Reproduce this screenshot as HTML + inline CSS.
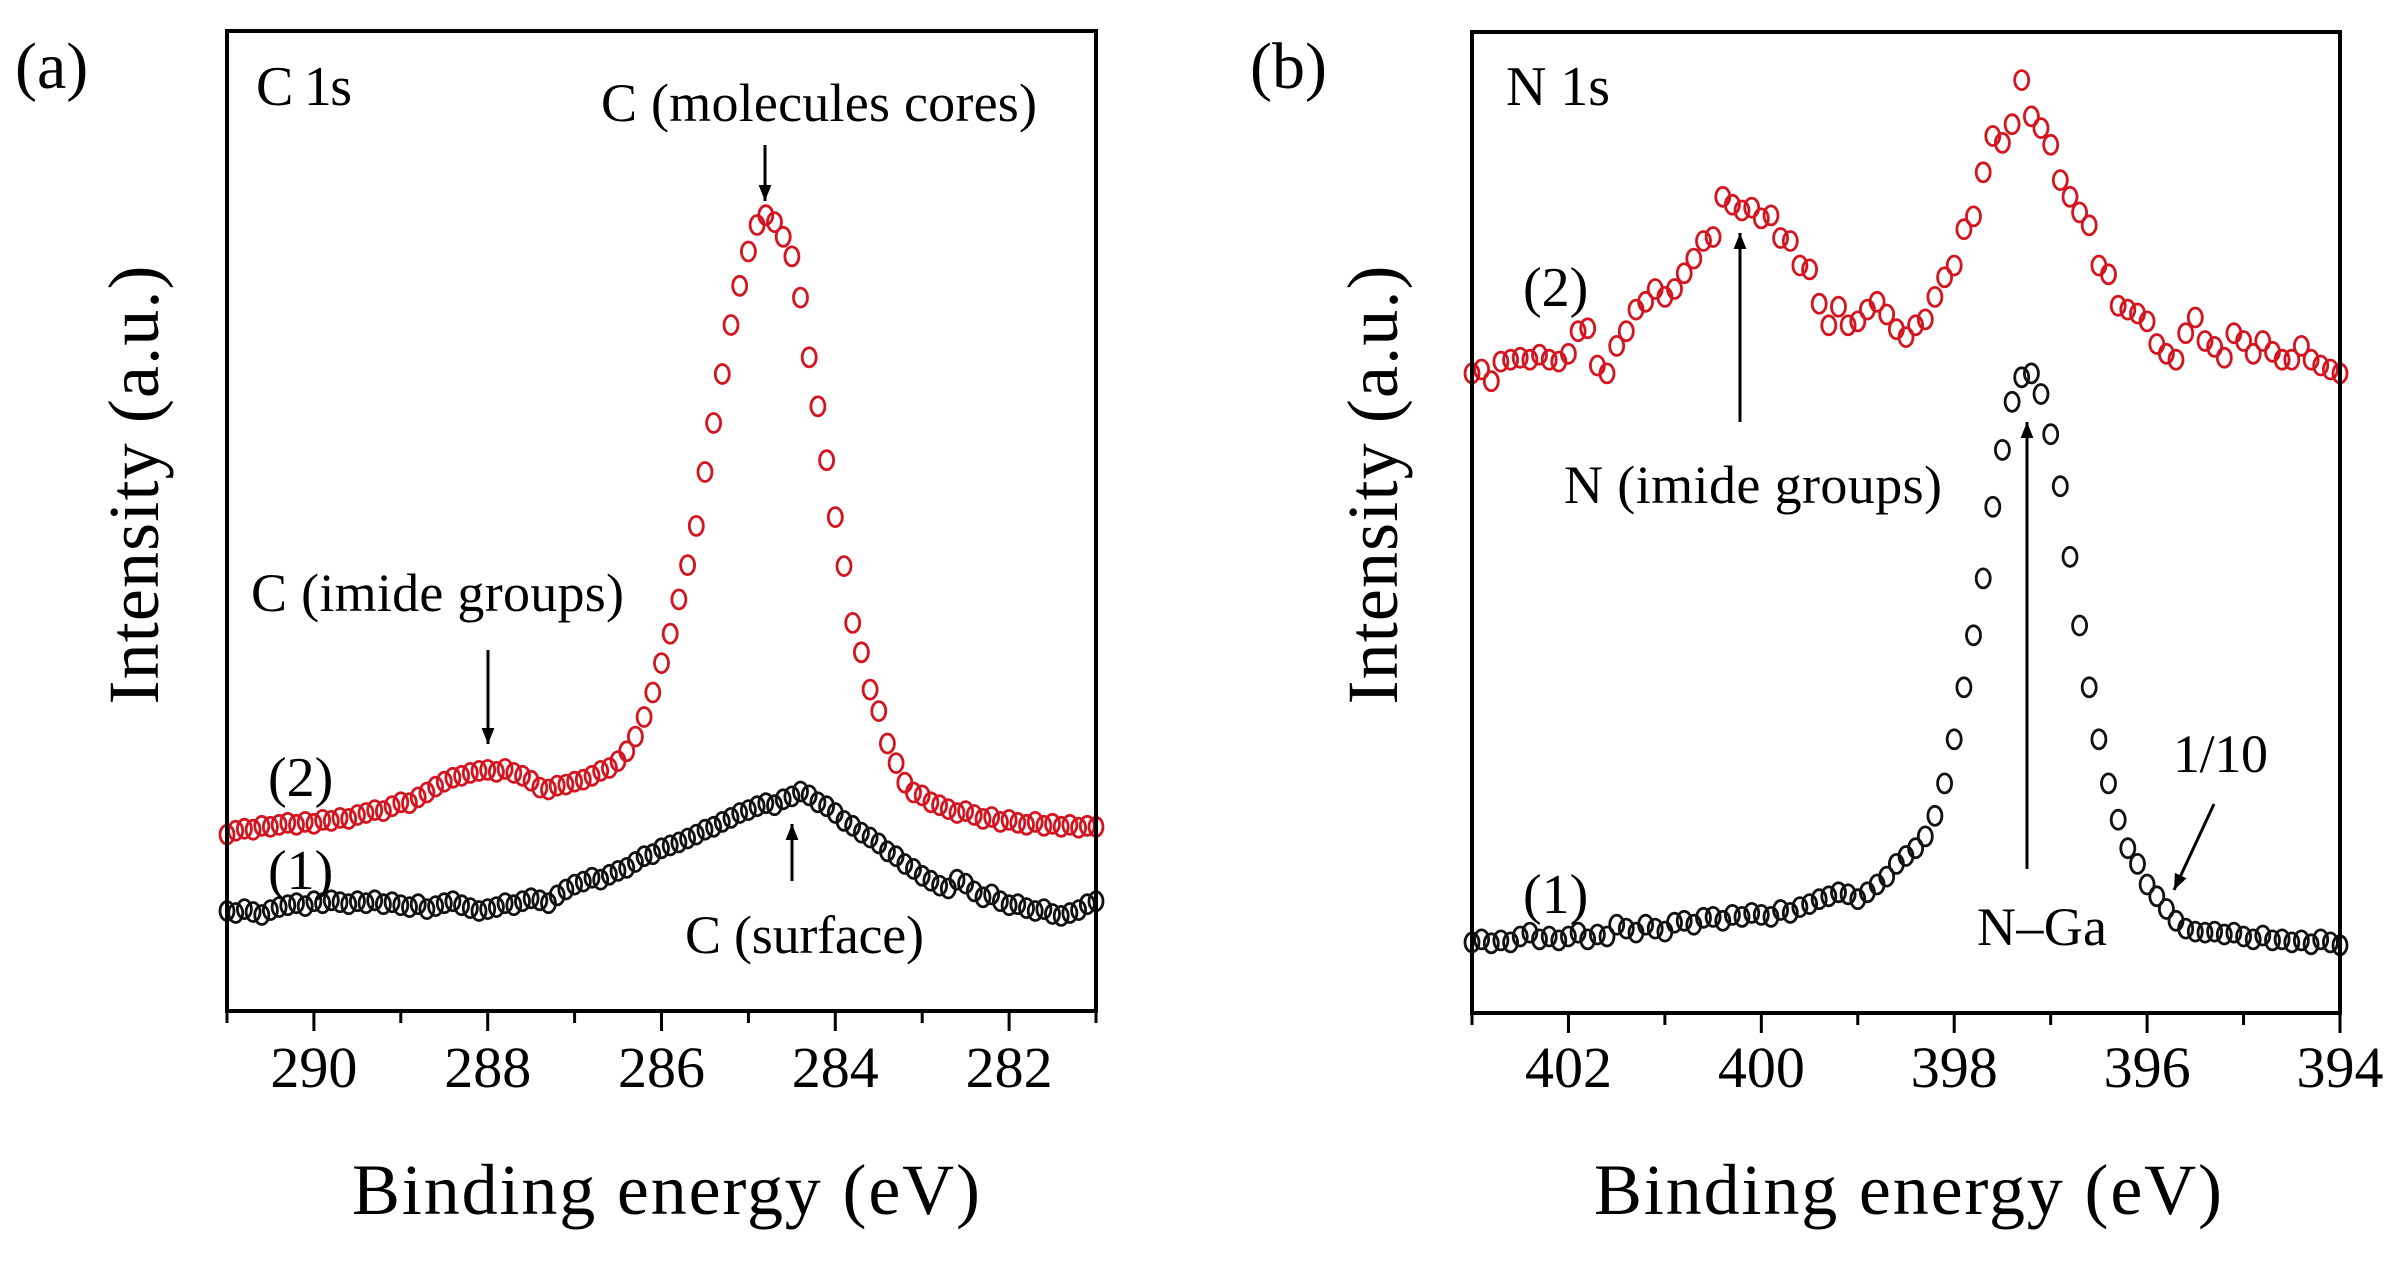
<!DOCTYPE html>
<html><head><meta charset="utf-8"><style>
html,body{margin:0;padding:0;background:#fff;}
svg{display:block;font-family:"Liberation Serif",serif;}
</style></head><body>
<svg id="fig" width="2396" height="1261" viewBox="0 0 2396 1261" xmlns="http://www.w3.org/2000/svg">
<defs>
<marker id="ah" markerWidth="16" markerHeight="20" refX="20" refY="8" orient="auto" markerUnits="userSpaceOnUse" viewBox="0 0 20 16">
<path d="M0,0 L20,8 L0,16 z" fill="#000"/></marker>
</defs>
<g id="panelA"></g>
<g id="panelB"></g>
</svg>
<script>
// Panel (a) C 1s: x from 291.0 down to 281.0 step 0.1
const cStart = 291.0, cStep = 0.1;
const cRed = [18.0,18.4,18.6,18.5,18.9,18.8,19.0,19.2,19.0,19.3,19.1,19.5,19.4,19.7,19.6,20.0,
20.2,20.5,20.4,20.9,21.3,21.2,21.8,22.3,22.9,23.4,23.8,24.0,24.3,24.5,24.6,
24.4,24.7,24.3,24.0,23.5,22.8,22.6,23.0,23.1,23.4,23.6,24.0,24.5,24.8,25.5,
26.5,28.0,30.0,32.5,35.5,38.5,42.0,45.5,49.5,55.0,60.0,65.0,70.0,74.0,77.5,
80.2,81.2,80.5,79.0,77.0,72.8,66.7,61.7,56.2,50.4,45.4,39.6,36.6,32.8,30.6,
27.3,25.3,23.3,22.3,22.0,21.3,21.0,20.6,20.2,20.4,20.0,19.6,19.8,19.3,19.5,
19.2,19.0,19.3,18.9,19.1,18.8,19.0,18.7,18.9,18.8];
const cBlack = [10.2,10.0,10.4,10.1,9.8,10.3,10.6,10.8,11.0,10.7,11.2,11.0,11.3,11.1,10.9,11.2,
11.0,11.3,10.9,11.1,10.8,10.6,10.9,10.4,10.7,11.0,11.2,10.8,10.5,10.2,10.4,
10.6,11.0,10.8,11.2,11.5,11.3,11.0,11.8,12.4,12.9,13.2,13.6,13.4,13.9,14.3,
14.6,15.2,15.8,16.0,16.6,16.9,17.2,17.6,18.0,18.5,18.8,19.3,19.7,20.2,20.5,
20.9,21.2,21.0,21.6,21.9,22.4,22.0,21.3,20.9,20.2,19.4,18.9,18.2,17.7,17.1,
16.3,15.8,15.0,14.5,13.8,13.3,12.8,12.5,13.4,13.0,12.2,11.6,11.9,11.2,10.8,
10.9,10.5,10.2,10.4,9.9,9.7,10.0,10.3,10.9,11.2];
const cTicks = [290,288,286,284,282];
const cMinor = [291,289,287,285,283,281];
// Panel (b) N 1s: x from 403.0 down to 394.0 step 0.1
const nStart = 403.0, nStep = 0.1;
const nRed = [65.2,65.6,64.4,66.4,66.6,66.8,66.6,67.1,66.6,66.4,67.2,69.5,69.8,66.0,65.2,68.0,69.5,71.7,72.5,73.8,
73.0,73.8,75.4,76.9,78.7,79.1,83.2,82.4,81.8,82.1,81.0,81.3,79.0,78.7,76.2,75.8,72.3,70.1,72.0,70.1,
70.5,71.7,72.5,71.2,69.7,68.9,70.1,70.7,73.0,75.0,76.2,79.9,81.2,85.7,89.4,88.7,90.6,95.1,91.4,90.2,
88.5,84.9,83.2,81.6,80.3,76.2,75.3,72.1,71.7,71.3,70.5,68.2,67.2,66.6,69.3,70.9,68.5,67.9,66.8,69.3,
68.5,67.2,68.5,67.4,66.6,66.6,68.0,66.6,66.0,65.6,65.2];
const nBlack = [7.2,7.5,7.1,7.4,7.2,7.8,8.2,7.5,7.8,7.4,7.8,8.2,7.5,8.0,7.8,9.0,8.6,8.2,9.0,8.6,
8.3,9.2,9.4,9.0,9.7,9.8,9.4,10.0,9.8,10.2,10.0,9.8,10.5,10.2,10.8,11.1,11.6,11.9,12.3,12.1,
11.6,12.3,13.1,13.9,15.2,16.0,16.8,18.0,20.1,23.4,27.9,33.2,38.5,44.3,51.6,57.4,62.3,64.8,65.2,63.1,
59.0,53.7,46.5,39.5,33.2,27.9,23.4,19.7,16.8,15.2,13.1,11.9,10.6,9.4,8.6,8.3,8.2,8.3,8.0,8.2,
7.8,7.5,7.9,7.4,7.5,7.2,7.4,7.0,7.5,7.2,6.9];
const nTicks = [402,400,398,396,394];
const nMinor = [403,401,399,397,395];

const NS = "http://www.w3.org/2000/svg";
function mk(parent, tag, attrs, text){
  const e = document.createElementNS(NS, tag);
  for (const k in attrs) e.setAttribute(k, attrs[k]);
  if (text !== undefined) e.textContent = text;
  parent.appendChild(e); return e;
}
function panel(g, cfg){
  const sx = v => cfg.left + (cfg.xmax - v) / (cfg.xmax - cfg.xmin) * (cfg.right - cfg.left);
  const sy = u => cfg.bottom - u / 100 * (cfg.bottom - cfg.top);
  [[cfg.black, "#111", "series-1"], [cfg.red, "#d4141e", "series-2"]].forEach(([arr, col, nm]) => {
    const sg = mk(g, "g", {});
    
    
    arr.forEach((u, i) => {
      const x = cfg.start - i * cfg.step;
      const c = mk(sg, "ellipse", {cx: sx(x).toFixed(1), cy: sy(u).toFixed(1), rx: 7, ry: 9.5, fill: "none", stroke: col, "stroke-width": 2.8});
      
      
    });
  });
  const fr = mk(g, "rect", {x: cfg.left, y: cfg.top, width: cfg.right - cfg.left, height: cfg.bottom - cfg.top, fill: "none", stroke: "#000", "stroke-width": 4});
  
  
  cfg.ticks.forEach(t => {
    const l = mk(g, "line", {x1: sx(t), x2: sx(t), y1: cfg.bottom, y2: cfg.bottom + 20, stroke: "#000", "stroke-width": 3});
    
    
    const tx = mk(g, "text", {x: sx(t), y: 1087, "font-size": 58, "text-anchor": "middle"}, String(t));
    
    
  });
  cfg.minor.forEach(t => {
    const l = mk(g, "line", {x1: sx(t), x2: sx(t), y1: cfg.bottom, y2: cfg.bottom + 12, stroke: "#000", "stroke-width": 3});
    
    
  });
}
const A = document.getElementById("panelA"), B = document.getElementById("panelB");
panel(A, {left: 227, right: 1096, top: 31, bottom: 1011, xmax: 291, xmin: 281, start: cStart, step: cStep, red: cRed, black: cBlack, ticks: cTicks, minor: cMinor});
panel(B, {left: 1472, right: 2340, top: 32, bottom: 1013, xmax: 403, xmin: 394, start: nStart, step: nStep, red: nRed, black: nBlack, ticks: nTicks, minor: nMinor});

function txt(g, name, x, y, size, s, len, anchor, rot){
  const a = {x: x, y: y, "font-size": size};
  if (len) { a.textLength = len; a.lengthAdjust = "spacing"; }
  if (anchor) a["text-anchor"] = anchor;
  if (rot) a.transform = rot;
  const t = mk(g, "text", a, s);
  
  
}
function arrow(g, name, x1, y1, x2, y2){
  const l = mk(g, "line", {x1, y1, x2, y2, stroke: "#000", "stroke-width": 3, "marker-end": "url(#ah)"});
  
  
}
txt(A, "panel-label-a", 15, 88, 66, "(a)");
txt(A, "spectrum-label-c1s", 256, 105, 56, "C 1s", 96);
txt(A, "annotation-molecules-cores", 601, 121, 54, "C (molecules cores)", 436);
arrow(A, "arrow-molecules-cores", 765, 145, 765, 201);
txt(A, "annotation-imide-groups-c", 251, 611, 54, "C (imide groups)", 373);
arrow(A, "arrow-imide-groups-c", 488, 650, 488, 744);
txt(A, "curve-label-2", 268, 796, 56, "(2)");
txt(A, "curve-label-1", 268, 889, 56, "(1)");
arrow(A, "arrow-surface", 792, 881, 792, 824);
txt(A, "annotation-surface", 685, 953, 54, "C (surface)", 239);
txt(A, "x-axis-title", 352, 1214, 72, "Binding energy (eV)", 628);
txt(A, "y-axis-title", 0, 0, 72, "Intensity (a.u.)", 439, "middle", "translate(158,485) rotate(-90)");
txt(B, "panel-label-b", 1250, 88, 66, "(b)");
txt(B, "spectrum-label-n1s", 1506, 105, 56, "N 1s", 104);
txt(B, "curve-label-2", 1523, 306, 56, "(2)");
txt(B, "curve-label-1", 1523, 913, 56, "(1)");
arrow(B, "arrow-imide-groups-n", 1740, 422, 1740, 233);
txt(B, "annotation-imide-groups-n", 1564, 503, 54, "N (imide groups)", 378);
arrow(B, "arrow-n-ga", 2027, 869, 2027, 422);
txt(B, "annotation-n-ga", 1977, 945, 54, "N–Ga", 130);
txt(B, "annotation-scale-1-10", 2173, 772, 54, "1/10", 95);
arrow(B, "arrow-scale", 2214, 804, 2174, 890);
txt(B, "x-axis-title", 1594, 1214, 72, "Binding energy (eV)", 628);
txt(B, "y-axis-title", 0, 0, 72, "Intensity (a.u.)", 439, "middle", "translate(1397,485) rotate(-90)");
</script>
</body></html>
